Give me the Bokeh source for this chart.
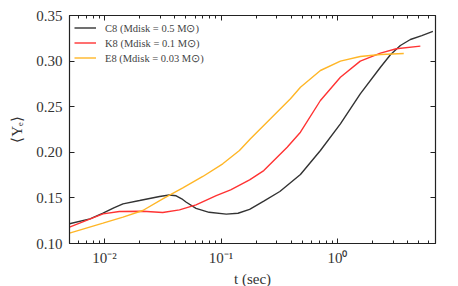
from bokeh.plotting import figure
from bokeh.models import (LogAxis, LinearAxis, FixedTicker, LogTicker, PrintfTickFormatter,
                          CustomJSTickFormatter, Legend, LegendItem, Range1d)
from bokeh.embed import file_html
from bokeh.resources import INLINE

# ---- data ----
c8_t = [0.005, 0.0075, 0.0097, 0.012, 0.0144, 0.020, 0.0297, 0.036, 0.0412, 0.046, 0.050,
        0.061, 0.079, 0.111, 0.14, 0.176, 0.233, 0.32, 0.481, 0.714, 1.06, 1.57, 2.34,
        2.85, 3.47, 4.23, 5.3, 6.6]
c8_y = [0.1216, 0.127, 0.1332, 0.139, 0.1435, 0.1471, 0.1515, 0.1532, 0.1523, 0.149, 0.1455,
        0.1385, 0.1342, 0.1322, 0.1332, 0.1375, 0.1465, 0.157, 0.1757, 0.202, 0.2312, 0.2641,
        0.2933, 0.307, 0.3171, 0.3237, 0.328, 0.3325]

k8_t = [0.005, 0.0097, 0.0134, 0.0213, 0.0316, 0.044, 0.061, 0.091, 0.121, 0.176, 0.233,
        0.37, 0.481, 0.714, 1.06, 1.57, 2.34, 3.2, 5.15]
k8_y = [0.1179, 0.1325, 0.1351, 0.1354, 0.134, 0.1369, 0.1424, 0.1526, 0.1589, 0.1698, 0.18,
        0.2056, 0.222, 0.2568, 0.2823, 0.300, 0.3087, 0.3135, 0.3164]

e8_t = [0.005, 0.0097, 0.0144, 0.0213, 0.0316, 0.047, 0.0698, 0.1035, 0.144, 0.179,
        0.266, 0.395, 0.481, 0.714, 1.06, 1.57, 2.34, 3.71]
e8_y = [0.1113, 0.1223, 0.1289, 0.1362, 0.149, 0.1611, 0.1735, 0.1874, 0.202, 0.2148,
        0.2367, 0.2587, 0.2714, 0.2897, 0.300, 0.305, 0.3072, 0.3083]

labels = ["C8 (Mdisk = 0.5 M⊙)", "K8 (Mdisk = 0.1 M⊙)", "E8 (Mdisk = 0.03 M⊙)"]
colors = ["#333333", "#ff3333", "#ffb627"]
y_ticks = [0.10, 0.15, 0.20, 0.25, 0.30, 0.35]

FONT = "Liberation Serif"

p = figure(width=458, height=286, frame_width=366, frame_height=228, x_axis_type="log",
           x_range=Range1d(0.005, 6.95), y_range=Range1d(0.10, 0.35),
           output_backend="svg", toolbar_location=None,
           min_border_left=69, min_border_right=23, min_border_top=15, min_border_bottom=43)
p.grid.visible = False
p.outline_line_color = "#222222"
p.background_fill_color = "white"
p.border_fill_color = "white"

r1 = p.line(c8_t, c8_y, line_color=colors[0], line_width=1.4)
r2 = p.line(k8_t, k8_y, line_color=colors[1], line_width=1.4)
r3 = p.line(e8_t, e8_y, line_color=colors[2], line_width=1.4)

sup_js = """
const sup = {"-":"\u207b","0":"\u2070","1":"\u00b9","2":"\u00b2","3":"\u00b3","4":"\u2074",
             "5":"\u2075","6":"\u2076","7":"\u2077","8":"\u2078","9":"\u2079"};
const e = Math.round(Math.log10(tick));
return "10" + String(e).split("").map(c => sup[c]).join("");
"""
xfmt = CustomJSTickFormatter(code=sup_js)
blank = CustomJSTickFormatter(code="return '';")

def style(ax, labels_on=True):
    ax.axis_line_color = "#222222"
    ax.axis_line_width = 1.2
    ax.major_tick_in = 5
    ax.major_tick_out = 0
    ax.minor_tick_in = 3
    ax.minor_tick_out = 0
    ax.major_tick_line_color = "#222222"
    ax.minor_tick_line_color = "#222222"
    ax.major_label_text_font = FONT
    ax.major_label_text_color = "#333333"
    ax.axis_label_text_font = FONT
    ax.axis_label_text_font_style = "normal"
    ax.axis_label_text_color = "#333333"
    if not labels_on:
        ax.formatter = blank
        ax.major_label_standoff = 0
        ax.axis_label = None

xt = LogTicker(mantissas=[1], num_minor_ticks=10)
yt = FixedTicker(ticks=y_ticks, minor_ticks=[])

xa = p.xaxis[0]
xa.ticker = xt
xa.formatter = xfmt
style(xa)
xa.major_label_text_font_size = "15px"
xa.major_label_standoff = 6
xa.axis_label = "t (sec)"
xa.axis_label_text_font_size = "15px"
xa.axis_label_standoff = 2

ya = p.yaxis[0]
ya.ticker = yt
ya.formatter = PrintfTickFormatter(format="%.2f")
style(ya)
ya.minor_tick_line_color = None
ya.major_label_text_font_size = "15px"
ya.major_label_standoff = 7
ya.axis_label = "⟨Yₑ⟩"
ya.axis_label_text_font_size = "15px"
ya.axis_label_standoff = 8

top = LogAxis(ticker=LogTicker(mantissas=[1], num_minor_ticks=10))
style(top, labels_on=False)
p.add_layout(top, "above")

right = LinearAxis(ticker=FixedTicker(ticks=y_ticks, minor_ticks=[]))
style(right, labels_on=False)
right.minor_tick_line_color = None
p.add_layout(right, "right")

legend = Legend(items=[LegendItem(label=labels[0], renderers=[r1]),
                       LegendItem(label=labels[1], renderers=[r2]),
                       LegendItem(label=labels[2], renderers=[r3])],
                location="top_left")
legend.border_line_color = None
legend.background_fill_alpha = 0
legend.label_text_font = FONT
legend.label_text_font_size = "10.5px"
legend.label_text_color = "#444444"
legend.glyph_width = 22
legend.glyph_height = 15
legend.label_height = 15
legend.spacing = 0
legend.padding = 5
legend.margin = 5
legend.label_standoff = 9
p.add_layout(legend)

open("out.html", "w").write(file_html(p, INLINE))
